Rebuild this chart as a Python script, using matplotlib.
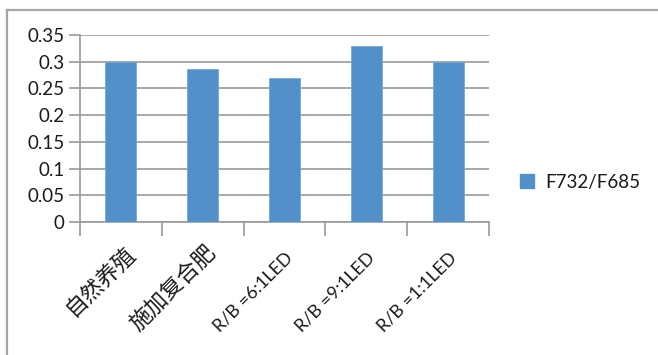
import matplotlib.pyplot as plt
from matplotlib.lines import Line2D
from matplotlib.patches import Patch

plt.rcParams['font.family'] = ['Lato', 'Noto Sans CJK SC', 'DejaVu Sans']

categories = ['自然养殖', '施加复合肥', 'R/B =6:1LED', 'R/B =9:1LED', 'R/B =1:1LED']
ratio = [0.300, 0.286, 0.270, 0.330, 0.300]
series_name = 'F732/F685'
yticks = [0, 0.05, 0.1, 0.15, 0.2, 0.25, 0.3, 0.35]
ytick_labels = ['0', '0.05', '0.1', '0.15', '0.2', '0.25', '0.3', '0.35']

bar_color = '#5190c8'
axis_gray = '#999999'
text_color = '#1a1a1a'

fig = plt.figure(figsize=(6.58, 3.55), dpi=100)
ax = fig.add_axes([0.1216, 0.3746, 0.6216, 0.5268])

x = list(range(len(categories)))
ax.bar(x, ratio, width=0.38, color=bar_color, edgecolor='#74a9d8', linewidth=0.6, zorder=3)

ax.set_xlim(-0.5, len(categories) - 0.5)
ax.set_ylim(0, 0.35)
ax.set_yticks(yticks)
ax.set_yticklabels(ytick_labels, fontsize=13.5, color=text_color)
ax.grid(axis='y', color=axis_gray, linewidth=1.2, zorder=0)

# tick marks sit on category boundaries
ax.set_xticks([i - 0.5 for i in range(len(categories) + 1)])
ax.set_xticklabels([])
ax.tick_params(axis='x', length=10, width=1.2, color=axis_gray)
ax.tick_params(axis='y', length=8, width=1.2, color=axis_gray, pad=3)

# rotated category names under each bar; CJK names are set larger
for i, name in enumerate(categories):
    if name.startswith('R/B'):
        size, offset = 13, (0, -20)
    else:
        size, offset = 16, (2, -14)
    ax.annotate(name, xy=(i, 0), xycoords=('data', 'axes fraction'),
                xytext=offset, textcoords='offset points',
                rotation=45, ha='right', va='top', rotation_mode='anchor',
                fontsize=size, color=text_color, annotation_clip=False)

for side in ('top', 'right'):
    ax.spines[side].set_visible(False)
for side in ('left', 'bottom'):
    ax.spines[side].set_color(axis_gray)
    ax.spines[side].set_linewidth(1.2)

fig.legend(handles=[Patch(color=bar_color, label=series_name)],
           loc='center left', bbox_to_anchor=(0.776, 0.487),
           frameon=False, fontsize=13.5, handlelength=0.75, handleheight=0.75,
           handletextpad=0.6, borderpad=0, labelcolor=text_color)

# chart area border (top and left edges)
border = '#a6a6a6'
fig.add_artist(Line2D([0.011, 1.0], [0.973, 0.973], transform=fig.transFigure,
                      color=border, linewidth=1.6))
fig.add_artist(Line2D([0.011, 0.011], [0.0, 0.973], transform=fig.transFigure,
                      color=border, linewidth=1.6))

fig.savefig('out.png', dpi=100)
